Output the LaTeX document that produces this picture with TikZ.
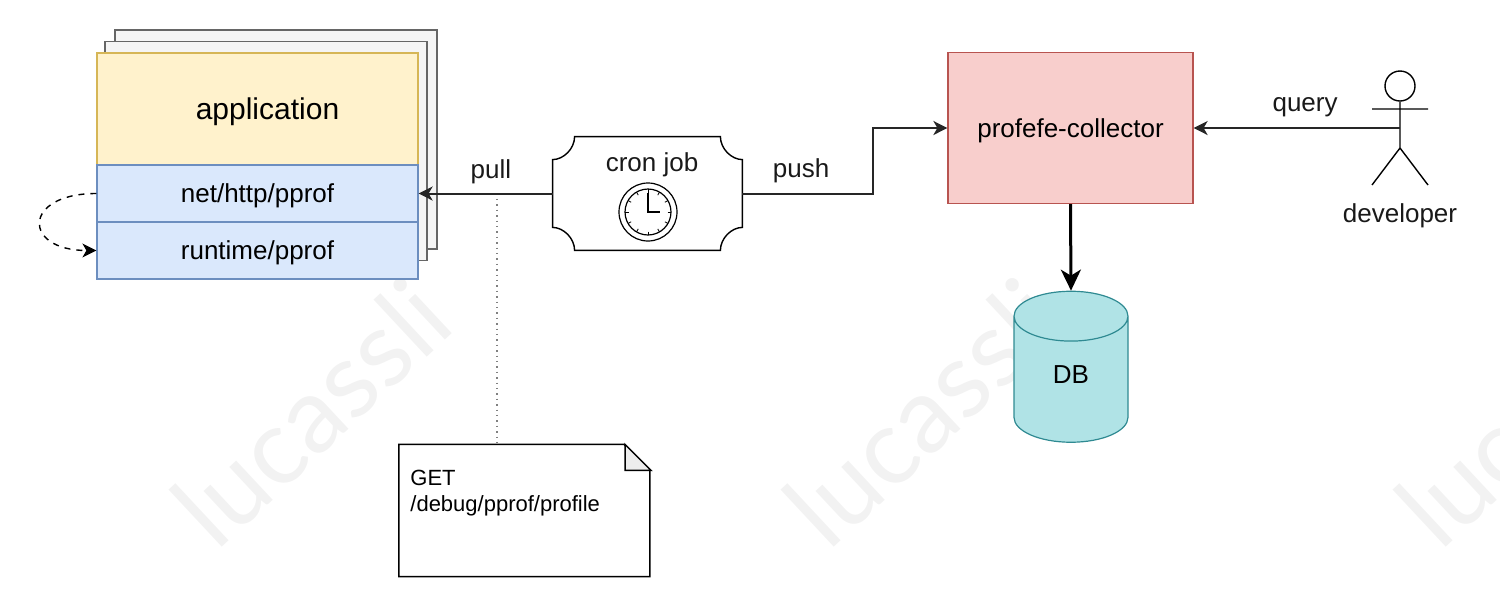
\documentclass[tikz,border=0pt]{standalone}
\usepackage{fontspec}
\setmainfont{Liberation Sans}
\newfontfamily\markfont{Lato}
\usetikzlibrary{arrows.meta,calc,positioning,shapes.geometric}
\definecolor{appfill}{HTML}{FFF2CC}
\definecolor{appdraw}{HTML}{D6B656}
\definecolor{pproffill}{HTML}{DAE8FC}
\definecolor{pprofdraw}{HTML}{6C8EBF}
\definecolor{redfill}{HTML}{F8CECC}
\definecolor{reddraw}{HTML}{B85450}
\definecolor{dbfill}{HTML}{B0E3E6}
\definecolor{dbdraw}{HTML}{2F8A92}
\tikzset{
    font={\fontsize{13pt}{15pt}\selectfont},
    state/.style={
           rectangle,
           draw=black, line width=0.6pt,
           inner sep=0pt,
           text height=9.2pt,
           text depth=0pt,
           text centered,
           },
    backpage/.style={state,draw=black!60,fill=black!4,minimum width=161pt,minimum height=109.5pt},
    pprof/.style={state,draw=pprofdraw,fill=pproffill,minimum width=160.5pt,minimum height=28.5pt},
    textonly/.style={draw=none,inner sep=0pt,text height=9.2pt,text depth=0pt,text=black!90},
    line/.style={line width=1pt,black!85},
    watermark/.style={draw=none,inner sep=0pt,rotate=43,text=black!5,font={\fontsize{53pt}{53pt}\markfont}},
}

\begin{document}
\begin{tikzpicture}[x=0.5pt,y=-0.5pt,>={Stealth[length=7pt,width=7pt,inset=2pt]}]
\useasboundingbox (0,0) rectangle (1500,596);

% watermarks
\node[watermark] (MARKA) at (311,412) {lucassli};
\node[watermark] (MARKB) at (923,412) {lucassli};
\node[watermark] (MARKC) at (1535,412) {lucassli};

% application with its stacked pages
\node[backpage] (PAGEB) at (276,139.5) {};
\node[backpage] (PAGEA) at (266,151) {};
\node[state,draw=appdraw,fill=appfill,minimum width=160.5pt,minimum height=56pt,text height=10.6pt,font={\fontsize{15pt}{17pt}\selectfont}] (APP) at (257.5,109) {\hspace*{10pt}application};
\node[pprof] (NETPPROF) at (257.5,193.5) {net/http/pprof};
\node[pprof] (RUNPPROF) at (257.5,250.5) {runtime/pprof};

% cron job, outline drawn round the node
\node[textonly,minimum width=94.5pt,minimum height=56.5pt] (CRON) at (647.5,193.5) {};
\draw[line width=0.7pt] ($(CRON.north west)+(22,0)$) -- ($(CRON.north east)+(-22,0)$)
    .. controls +(0,12) and +(-11,0) .. ($(CRON.north east)+(0,23)$) -- ($(CRON.south east)+(0,-23)$)
    .. controls +(-11,0) and +(0,-12) .. ($(CRON.south east)+(-22,0)$) -- ($(CRON.south west)+(22,0)$)
    .. controls +(0,-12) and +(11,0) .. ($(CRON.south west)+(0,-23)$) -- ($(CRON.north west)+(0,23)$)
    .. controls +(11,0) and +(0,12) .. ($(CRON.north west)+(22,0)$) -- cycle;
\node[textonly] (CRONTEXT) at (652,162) {cron job};
\node[circle,draw,line width=0.6pt,minimum size=29pt,inner sep=0pt] (CLOCK) at (648,212) {};
\node[circle,draw,line width=0.6pt,minimum size=23pt,inner sep=0pt] (DIAL) at (CLOCK) {};
\foreach \tick in {0,30,...,330}
    \draw[line width=0.4pt] (CLOCK) ++(\tick:19.5) -- ++(\tick:3.5);
\draw[line width=0.6pt] (648,193) -- (CLOCK.center) -- (660,212);

\node[state,draw=reddraw,fill=redfill,minimum width=122.5pt,minimum height=75.5pt] (COLLECTOR) at (1070.5,128) {profefe-collector};

\node[state,cylinder,shape border rotate=90,aspect=1.38,draw=dbdraw,fill=dbfill,minimum height=75.5pt,minimum width=57pt] (DB) at (1071,379.5) {\raisebox{2.5pt}{DB}};

% actor
\node[circle,draw,line width=0.7pt,minimum size=15pt,inner sep=0pt] (HEAD) at (1400,86) {};
\coordinate (HIP) at (1400,148);
\coordinate (HAND) at (1400,128);
\draw[line width=0.7pt] (HEAD) -- (HIP) -- (1372,185) (HIP) -- (1428,185) (1372,109) -- (1428,109);
\node[textonly] (DEVELOPER) at (1400,213) {developer};

\node[state,draw=none,minimum width=125.5pt,minimum height=65.5pt] (NOTEBOX) at (525,510.5) {};
\draw[line width=0.7pt,fill=white] (NOTEBOX.north west) -- ++(225,0) -- ++(26,26) |- (NOTEBOX.south west) -- cycle;
\draw[line width=0.7pt,fill=black!7] ($(NOTEBOX.north east)+(-26,0)$) -- ++(0,26) -- ++(26,0) -- cycle;
\node[draw=none,inner sep=0pt,align=left,anchor=north west,font={\fontsize{11pt}{13pt}\selectfont}] (NOTETEXT) at (410,470) {GET\\/debug/pprof/profile};

% connectors
\coordinate (PULLPT) at (497,193.5);
\coordinate (PUSHBEND) at (873,128);
\draw[dotted,line width=0.7pt,black!50] (PULLPT) -- (NOTEBOX.north -| PULLPT);
\path (CRON.west) edge[->,line] node[textonly,pos=0.46,above=7pt] (PULL) {pull} (NETPPROF.east);
\draw[->,line] (CRON.east) -| node[textonly,pos=0.225,above=7.5pt] (PUSH) {push} (PUSHBEND) -- (COLLECTOR.west);
\path (HAND) edge[->,line] node[textonly,pos=0.46,above=8pt] (QUERY) {query} (COLLECTOR.east);
\draw[->,line width=1.5pt,>={Stealth[length=10.5pt,width=10pt,inset=3pt]}] (COLLECTOR.south) -- (DB.north);
\draw[->,dashed,line width=0.7pt] (NETPPROF.west) .. controls (22,193.5) and (22,250.5) .. (RUNPPROF.west);

\end{tikzpicture}
\end{document}
